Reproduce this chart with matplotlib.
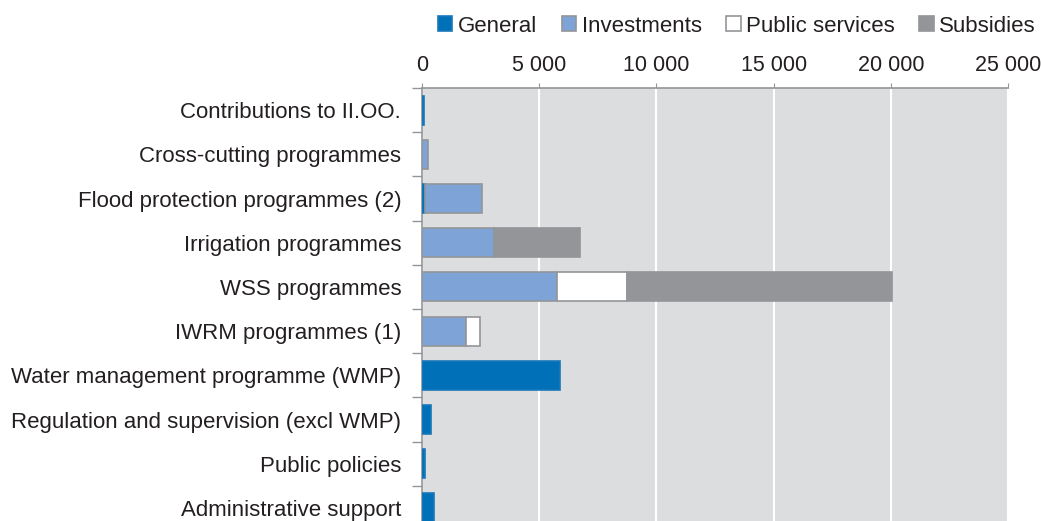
import matplotlib
matplotlib.use("Agg")
import matplotlib.pyplot as plt
import numpy as np
from matplotlib.patches import Patch

categories = [
    "Contributions to II.OO.",
    "Cross-cutting programmes",
    "Flood protection programmes (2)",
    "Irrigation programmes",
    "WSS programmes",
    "IWRM programmes (1)",
    "Water management programme (WMP)",
    "Regulation and supervision (excl WMP)",
    "Public policies",
    "Administrative support",
]
general = [80, 0, 110, 0, 0, 0, 5880, 370, 110, 510]
investments = [0, 250, 2440, 3060, 5770, 1890, 0, 0, 0, 0]
public_services = [0, 0, 0, 0, 2980, 590, 0, 0, 0, 0]
subsidies = [0, 0, 0, 3680, 11290, 0, 0, 0, 0, 0]

series = ["General", "Investments", "Public services", "Subsidies"]
x_ticks = [0, 5000, 10000, 15000, 20000, 25000]

colors = ["#0070b8", "#7ea3d6", "#ffffff", "#939598"]
edges = ["#1a78b8", "#939598", "#939598", "#939598"]
text_color = "#231f20"

plt.rcParams["font.family"] = ["Liberation Sans", "DejaVu Sans"]

fig = plt.figure(figsize=(10.41, 5.21), dpi=100)
ax = fig.add_axes([0.4054, -0.0173, 0.5629, 0.8484])
ax.set_facecolor("#dcdddf")

y = np.arange(len(categories))
left = np.zeros(len(categories))
for name, vals, c, ec in zip(series, [general, investments, public_services, subsidies], colors, edges):
    vals = np.array(vals, dtype=float)
    nz = vals > 0
    ax.barh(y[nz], vals[nz], left=left[nz], height=0.66, color=c, edgecolor=ec,
            linewidth=1.2, label=name, zorder=3)
    left += vals

ax.set_ylim(len(categories) - 0.5, -0.5)
ax.set_xlim(0, 25000)
ax.set_xticks(x_ticks)
ax.set_xticklabels([f"{t:,}".replace(",", " ") for t in x_ticks], fontsize=15.5, color=text_color)
ax.xaxis.tick_top()
ax.grid(axis="x", color="white", linewidth=1.5, zorder=0)
ax.tick_params(axis="x", length=3.6, color="#939598", pad=5)

ax.set_yticks(y)
ax.set_yticklabels(categories, fontsize=16, color=text_color)
ax.set_yticks(np.arange(len(categories) + 1) - 0.5, minor=True)
ax.tick_params(axis="y", which="major", length=0, pad=15)
ax.tick_params(axis="y", which="minor", length=7, color="#939598", width=1)

for s in ["right", "bottom"]:
    ax.spines[s].set_visible(False)
for s in ["top", "left"]:
    ax.spines[s].set_color("#939598")
    ax.spines[s].set_linewidth(1.2)

handles = [Patch(facecolor=c, edgecolor=ec, linewidth=1.2) for c, ec in zip(colors, edges)]
fig.legend(handles, series, loc="center", bbox_to_anchor=(0.708, 0.950), ncol=4, frameon=False,
           fontsize=16, handlelength=0.65, handleheight=0.65, handletextpad=0.25, columnspacing=1.1,
           labelcolor=text_color)

plt.savefig("out.png", dpi=100)
